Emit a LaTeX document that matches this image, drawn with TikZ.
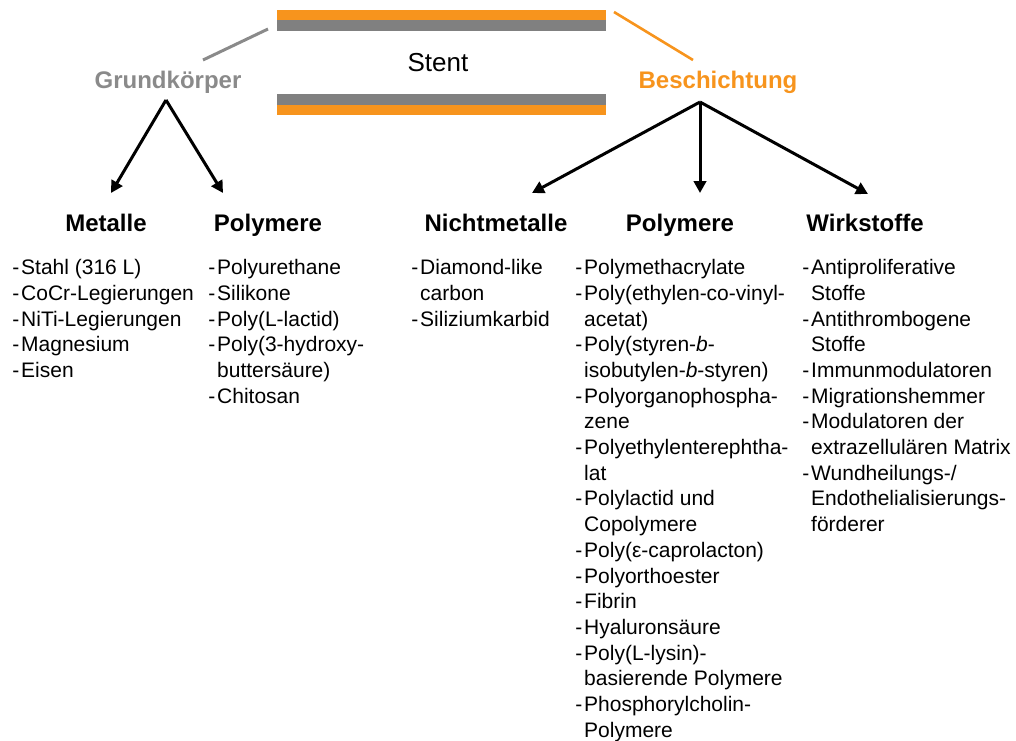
\documentclass[tikz,border=0pt]{standalone}
\usepackage{fontspec}
\setmainfont{Liberation Sans}
\usepackage{xcolor}
\usepackage{tikz}
\usetikzlibrary{arrows.meta}
\definecolor{StentGray}{HTML}{808080}
\definecolor{LabelGray}{HTML}{8A8A8A}
\definecolor{StentOrange}{HTML}{F7941D}
\newcommand{\itm}{\makebox[4.4pt][l]{-}}
\newcommand{\cnt}{\hspace*{4.4pt}}

\begin{document}
\begin{tikzpicture}[x=0.5pt,y=-0.5pt]
\tikzset{
head/.style={ font=\bfseries\fontsize{12}{14}\selectfont , anchor=base , inner sep=0pt },
liste/.style={ font=\fontsize{10.5}{12.85}\selectfont , align=left ,
anchor=north west , inner sep=0pt },
pfeil/.style={ -{Triangle[length=6pt,width=6.2pt]} , line width=1.5pt }
}
\useasboundingbox (0,0) rectangle (1016,740);

% stent
\fill[StentOrange] (277,10) rectangle (606,20);
\fill[StentGray] (277,20) rectangle (606,31);
\fill[StentGray] (277,94) rectangle (606,105);
\fill[StentOrange] (277,105) rectangle (606,115);
\node[anchor=base, inner sep=0pt, font=\fontsize{13}{15}\selectfont] (stent) at (438,71) {Stent};

\node[head, text=LabelGray] (gk) at (168,88) {Grundkörper};
\node[head, text=StentOrange] (besch) at (718,88) {Beschichtung};

\coordinate (gk-a) at (203,60);
\coordinate (gk-b) at (268,29);
\coordinate (be-a) at (614,12);
\coordinate (be-b) at (693,60);
\draw[LabelGray, line width=1.5pt] (gk-a) -- (gk-b);
\draw[StentOrange, line width=1.3pt] (be-a) -- (be-b);

\node[head] (metalle) at (106,231) {Metalle};
\node[head] (poly1) at (268,231) {Polymere};
\node[head] (nichtm) at (496,231) {Nichtmetalle};
\node[head] (poly2) at (680,231) {Polymere};
\node[head] (wirk) at (865,231) {Wirkstoffe};

% arrows
\coordinate (gk-top) at (166,100);
\coordinate (gk-l) at (111,193);
\coordinate (gk-r) at (223,193);
\coordinate (be-top) at (700,102);
\coordinate (be-l) at (532,193);
\coordinate (be-m) at (700,193);
\coordinate (be-r) at (868,194);
\draw[pfeil] (gk-top) -- (gk-l);
\draw[pfeil] (gk-top) -- (gk-r);
\draw[pfeil] (be-top) -- (be-l);
\draw[pfeil] (be-top) -- (be-m);
\draw[pfeil] (be-top) -- (be-r);

% lists
\node[liste] (l-metalle) at (12,259) {\itm Stahl (316 L)\\ \itm CoCr-Legierungen\\ \itm NiTi-Legierungen\\ \itm Magnesium\\ \itm Eisen};

\node[liste] (l-poly1) at (208,259) {\itm Polyurethane\\ \itm Silikone\\ \itm Poly(L-lactid)\\ \itm Poly(3-hydroxy-\\ \cnt buttersäure)\\ \itm Chitosan};

\node[liste] (l-nichtm) at (411,259) {\itm Diamond-like\\ \cnt carbon\\ \itm Siliziumkarbid};

\node[liste] (l-poly2) at (575,259) {\itm Polymethacrylate\\ \itm Poly(ethylen-co-vinyl-\\ \cnt acetat)\\
\itm Poly(styren-\textit{b}-\\ \cnt isobutylen-\textit{b}-styren)\\ \itm Polyorganophospha-\\ \cnt zene\\
\itm Polyethylenterephtha-\\ \cnt lat\\ \itm Polylactid und\\ \cnt Copolymere\\ \itm Poly(ε-caprolacton)\\
\itm Polyorthoester\\ \itm Fibrin\\ \itm Hyaluronsäure\\ \itm Poly(L-lysin)-\\ \cnt basierende Polymere\\
\itm Phosphorylcholin-\\ \cnt Polymere};

\node[liste] (l-wirk) at (802,259) {\itm Antiproliferative\\ \cnt Stoffe\\ \itm Antithrombogene\\ \cnt Stoffe\\
\itm Immunmodulatoren\\ \itm Migrationshemmer\\ \itm Modulatoren der\\ \cnt extrazellulären Matrix\\
\itm Wundheilungs-/\\ \cnt Endothelialisierungs-\\ \cnt förderer};

\end{tikzpicture}
\end{document}
